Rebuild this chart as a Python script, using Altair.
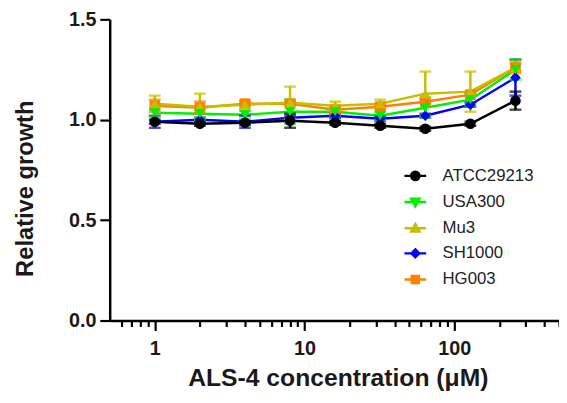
import altair as alt
import pandas as pd

conc = [1, 2, 4, 8, 16, 32, 64, 128, 256]
series = ["ATCC29213", "USA300", "Mu3", "SH1000", "HG003"]
colors = ["#000000", "#00F000", "#C4C000", "#0000FF", "#FF7F00"]
shapes = ["circle", "triangle-down", "triangle-up", "diamond", "square"]

atcc = [0.99, 0.98, 0.985, 0.995, 0.985, 0.97, 0.955, 0.98, 1.095]
atcc_sd = [0.01, 0.01, 0.01, 0.035, 0.01, 0.01, 0.01, 0.01, 0.045]
usa300 = [1.035, 1.03, 1.025, 1.04, 1.04, 1.02, 1.06, 1.10, 1.25]
usa300_sd = [0.02, 0.02, 0.02, 0.06, 0.02, 0.02, 0.05, 0.03, 0.05]
mu3 = [1.08, 1.065, 1.075, 1.085, 1.07, 1.08, 1.13, 1.14, 1.26]
mu3_sd = [0.04, 0.065, 0.02, 0.08, 0.02, 0.02, 0.11, 0.10, 0.03]
sh1000 = [0.99, 1.0, 0.99, 1.01, 1.02, 1.005, 1.02, 1.075, 1.21]
sh1000_sd = [0.03, 0.01, 0.03, 0.01, 0.01, 0.01, 0.01, 0.01, 0.09]
hg003 = [1.07, 1.06, 1.08, 1.08, 1.05, 1.065, 1.09, 1.125, 1.26]
hg003_sd = [0.03, 0.03, 0.01, 0.01, 0.01, 0.01, 0.01, 0.01, 0.02]

x_ticks = [0.6, 0.7, 0.8, 0.9, 1, 2, 3, 4, 5, 6, 7, 8, 9, 10,
           20, 30, 40, 50, 60, 70, 80, 90, 100, 200, 300, 400, 500]
y_ticks = [0, 0.5, 1.0, 1.5]

means = {"ATCC29213": atcc, "USA300": usa300, "Mu3": mu3, "SH1000": sh1000, "HG003": hg003}
sds = {"ATCC29213": atcc_sd, "USA300": usa300_sd, "Mu3": mu3_sd, "SH1000": sh1000_sd, "HG003": hg003_sd}
draw_order = {"HG003": 0, "SH1000": 1, "Mu3": 2, "USA300": 3, "ATCC29213": 4}

rows = []
for s in series:
    for c, m, e in zip(conc, means[s], sds[s]):
        rows.append({"conc": c, "series": s, "mean": m, "lo": m - e, "hi": m + e,
                     "ord": draw_order[s]})
df = pd.DataFrame(rows).sort_values(["ord", "conc"]).reset_index(drop=True)

FONT = "Liberation Sans"

xscale = alt.Scale(type="log", domain=[0.5, 500], nice=False)
yscale = alt.Scale(domain=[0, 1.5], nice=False, zero=False)
cscale = alt.Scale(domain=series, range=colors)
sscale = alt.Scale(domain=series, range=shapes)

major = "datum.value == 1 || datum.value == 10 || datum.value == 100"
x_axis = alt.Axis(
    values=x_ticks,
    labelExpr="datum.value == 1 ? '1' : datum.value == 10 ? '10' : datum.value == 100 ? '100' : ''",
    labelFont=FONT, labelFontSize=20, labelFontWeight="bold", labelColor="#1a1a1a",
    labelBaseline="alphabetic", labelPadding=24, labelFlush=False, labelOverlap=False,
    tickSize={"condition": {"test": major, "value": 10}, "value": 6},
    tickWidth=2.2, tickColor="black", domainColor="black", domainWidth=2.5, grid=False,
    title="ALS-4 concentration (μM)", titleFont=FONT, titleFontSize=25, titleFontWeight="bold",
    titleColor="#1a1a1a", titleBaseline="alphabetic", titleY=66, titleX=231, titleAlign="center",
)
y_axis = alt.Axis(
    values=y_ticks, format=".1f",
    labelFont=FONT, labelFontSize=20, labelFontWeight="bold", labelColor="#1a1a1a",
    labelPadding=4, tickSize=10, tickWidth=2.2, tickColor="black",
    domainColor="black", domainWidth=2.5, grid=False,
    title="Relative growth", titleFont=FONT, titleFontSize=24, titleFontWeight="bold",
    titleColor="#1a1a1a", titleBaseline="alphabetic", titleAlign="center",
    titleX=-78, titleY=171, titleAngle=270,
)

base = alt.Chart(df)
X = alt.X("conc:Q", scale=xscale, axis=x_axis)
Y = alt.Y("mean:Q", scale=yscale, axis=y_axis)
C = alt.Color("series:N", scale=cscale, legend=None)

lines = base.mark_line(strokeWidth=2.5).encode(x=X, y=Y, color=C, detail="series:N",
                                               order="conc:Q")
stems = base.mark_rule(strokeWidth=2.5).encode(x="conc:Q", y="lo:Q", y2="hi:Q", color=C)
cap_hi = base.mark_tick(orient="horizontal", size=12, thickness=2.5).encode(
    x="conc:Q", y="hi:Q", color=C)
cap_lo = base.mark_tick(orient="horizontal", size=12, thickness=2.5).encode(
    x="conc:Q", y="lo:Q", color=C)
points = base.mark_point(filled=True, opacity=1, size=115).encode(
    x="conc:Q", y="mean:Q", color=C,
    shape=alt.Shape("series:N", scale=sscale, legend=None))

data_layer = alt.layer(lines, stems, cap_hi, cap_lo, points)

# legend-only layer: points placed outside the x domain and clipped away
legend_paths = [
    "M-1,0H1M0.38,0A0.38,0.38,0,1,1,-0.38,0A0.38,0.38,0,1,1,0.38,0Z",
    "M-1,0H1M-0.38,-0.3L0.38,-0.3L0,0.38Z",
    "M-1,0H1M-0.38,0.3L0.38,0.3L0,-0.38Z",
    "M-1,0H1M0,-0.36L0.36,0L0,0.36L-0.36,0Z",
    "M-1,0H1M-0.32,-0.32H0.32V0.32H-0.32Z",
]
leg_df = pd.DataFrame({"label": series, "lx": [0.1] * 5, "ly": [1.0] * 5})
leg_scale_c = alt.Scale(domain=series, range=colors)
leg = alt.Legend(
    title=None, orient="none", legendX=297, legendY=146, padding=0,
    labelFont=FONT, labelFontSize=17, labelColor="#222222", labelOffset=15,
    symbolSize=484, symbolStrokeWidth=2.5, rowPadding=4.5, labelLimit=200,
)
legend_layer = alt.Chart(leg_df).mark_point(filled=True, clip=True, opacity=1).encode(
    x=alt.X("lx:Q", scale=xscale),
    y=alt.Y("ly:Q", scale=yscale),
    color=alt.Color("label:N", scale=leg_scale_c, legend=leg, sort=series),
    stroke=alt.Stroke("label:N", scale=leg_scale_c, legend=leg, sort=series),
    shape=alt.Shape("label:N", scale=alt.Scale(domain=series, range=legend_paths),
                    legend=leg, sort=series),
)

chart = alt.layer(data_layer, legend_layer).resolve_scale(
    color="independent", shape="independent", stroke="independent"
).properties(
    width=455, height=305,
    autosize=alt.AutoSizeParams(type="none"),
    padding={"left": 103, "top": 9, "right": 0, "bottom": 80},
).configure_view(stroke=None)

chart.save("out.html", embed_options={"renderer": "svg", "actions": False})
